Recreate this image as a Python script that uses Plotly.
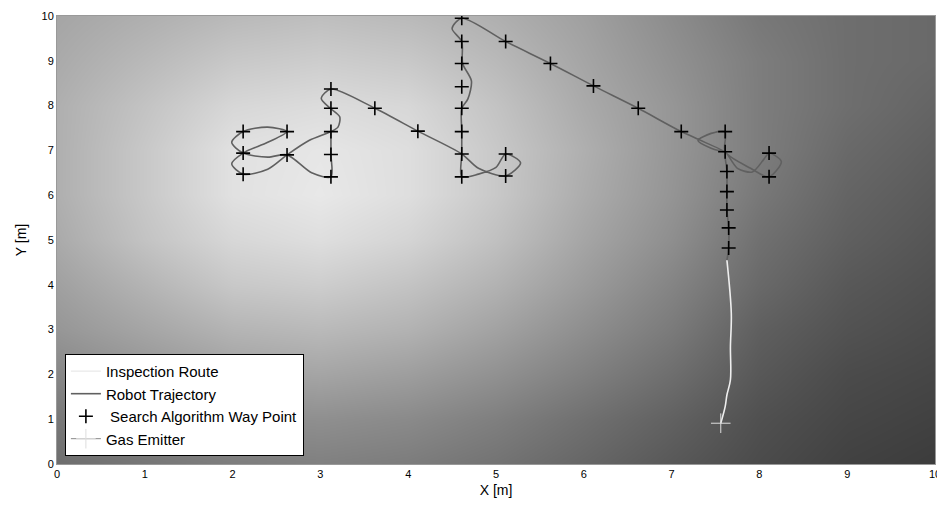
import plotly.graph_objects as go

# ---- background concentration field (gray level 0-255) ----
grid_x = [0, 1, 2, 3, 4, 5, 6, 7, 8, 9, 10]
grid_y = [0, 1, 2, 3, 4, 5, 6, 7, 8, 9, 10]
field_rows = [
    [110, 118, 125, 128, 124, 115, 102, 88, 75, 65, 60],
    [120, 130, 140, 143, 138, 127, 112, 97, 80, 70, 65],
    [135, 148, 160, 165, 158, 145, 128, 110, 88, 75, 70],
    [150, 165, 180, 185, 178, 162, 142, 122, 95, 82, 75],
    [160, 180, 200, 205, 195, 178, 155, 132, 105, 88, 80],
    [170, 195, 215, 222, 212, 192, 165, 142, 112, 95, 85],
    [175, 200, 225, 232, 222, 200, 172, 148, 120, 100, 90],
    [175, 200, 225, 230, 222, 200, 175, 150, 125, 105, 95],
    [175, 195, 215, 220, 215, 195, 170, 150, 125, 110, 100],
    [170, 185, 200, 205, 200, 185, 165, 145, 125, 110, 105],
    [165, 175, 185, 190, 185, 175, 160, 140, 120, 110, 105],
]

# ---- inspection route ----
route_x = [7.56, 7.61, 7.63, 7.67, 7.67, 7.68, 7.63]
route_y = [0.91, 1.28, 1.54, 1.88, 2.62, 3.36, 4.55]

# ---- robot trajectory ----
traj_x = [7.63, 7.65, 7.65, 7.63, 7.63, 7.63, 7.61, 7.75, 7.92, 8.05, 8.11, 8.25, 8.11, 7.90, 7.61,
          7.61, 7.45, 7.30, 7.45, 7.61,
          7.11, 6.62, 6.11, 5.62, 5.11, 4.61,
          4.50, 4.61, 4.62, 4.72, 4.68, 4.61, 4.61, 4.61, 4.61,
          4.80, 5.00, 5.11, 5.28, 5.11, 4.80, 4.61,
          4.11, 3.62, 3.12,
          3.01, 3.10, 3.22, 3.20, 3.12,
          2.87, 2.62, 2.40, 2.12, 1.99, 2.12,
          2.40, 2.62, 2.40, 2.12, 1.99, 2.12,
          2.40, 2.62, 2.90, 3.12, 3.12, 3.12]
traj_y = [4.55, 4.82, 5.27, 5.67, 6.08, 6.53, 6.97, 6.60, 6.52, 6.80, 6.94, 6.75, 6.41, 6.60, 6.97,
          7.42, 7.38, 7.22, 7.05, 6.97,
          7.42, 7.94, 8.44, 8.94, 9.43, 9.95,
          9.72, 9.43, 8.94, 8.55, 8.15, 7.94, 7.42, 6.92, 6.41,
          6.47, 6.62, 6.92, 6.72, 6.43, 6.60, 6.92,
          7.43, 7.94, 8.37,
          8.16, 7.96, 7.75, 7.52, 7.42,
          7.22, 6.90, 6.58, 6.47, 6.70, 6.94,
          7.18, 7.42, 7.52, 7.42, 7.18, 6.94,
          6.85, 6.90, 6.50, 6.41, 6.91, 7.42]

# ---- search algorithm way points ----
wp_x = [2.12, 2.12, 2.12, 2.62, 2.62, 3.12, 3.12, 3.12, 3.12, 3.12,
        3.62, 4.11,
        4.61, 4.61, 4.61, 4.61, 4.61, 4.61, 4.61, 4.61, 5.11, 5.11,
        5.11, 5.62, 6.11, 6.62, 7.11,
        7.61, 7.61, 7.63, 7.63, 7.63, 7.65, 7.65, 8.11, 8.11]
wp_y = [7.42, 6.94, 6.47, 7.42, 6.90, 8.37, 7.94, 7.42, 6.91, 6.41,
        7.94, 7.43,
        9.95, 9.43, 8.94, 8.42, 7.94, 7.42, 6.92, 6.41, 6.92, 6.43,
        9.43, 8.94, 8.44, 7.94, 7.42,
        7.42, 6.97, 6.53, 6.08, 5.67, 5.27, 4.82, 6.94, 6.41]

# ---- gas emitter ----
emit_x = [7.56]
emit_y = [0.91]

fig = go.Figure()
fig.add_trace(go.Heatmap(
    x=grid_x, y=grid_y, z=field_rows, zmin=0, zmax=255, zsmooth="best",
    colorscale=[[0, "rgb(0,0,0)"], [1, "rgb(255,255,255)"]],
    showscale=False, hoverinfo="skip", showlegend=False))
fig.add_trace(go.Scatter(
    x=route_x, y=route_y, mode="lines", name="Inspection Route",
    line=dict(color="#eeeeee", width=1.6, shape="spline")))
fig.add_trace(go.Scatter(
    x=traj_x, y=traj_y, mode="lines", name="Robot Trajectory",
    line=dict(color="#606060", width=1.6, shape="spline", smoothing=0.8)))
fig.add_trace(go.Scatter(
    x=wp_x, y=wp_y, mode="markers", name="\u00a0Search Algorithm Way Point",
    marker=dict(symbol="cross-thin", size=10, color="black",
                line=dict(color="black", width=1.6))))
fig.add_trace(go.Scatter(
    x=emit_x, y=emit_y, mode="lines+markers", name="Gas Emitter",
    line=dict(color="#888888", width=1),
    marker=dict(symbol="cross-thin", size=14, color="#dddddd",
                line=dict(color="#dddddd", width=1))))

axis_common = dict(range=[0, 10], dtick=1, showgrid=False, zeroline=False,
                   showline=True, linecolor="#999999", linewidth=1, mirror=True,
                   ticks="", automargin=False,
                   tickfont=dict(family="Liberation Sans, Arial", size=11, color="black"))
fig.update_layout(
    width=937, height=507,
    margin=dict(l=49, r=10, t=8, b=51),
    paper_bgcolor="white", plot_bgcolor="white",
    font=dict(family="Liberation Sans, Arial", color="black"),
    xaxis=dict(**axis_common, title=dict(text="X [m]", font=dict(size=14), standoff=5)),
    yaxis=dict(**axis_common, title=dict(text="Y [m]", font=dict(size=14), standoff=11)),
    legend=dict(x=0.009, y=0.018, xanchor="left", yanchor="bottom",
                bgcolor="white", bordercolor="black", borderwidth=1,
                font=dict(family="Liberation Sans, Arial", size=15, color="black"),
                tracegroupgap=0, itemwidth=30),
)
fig.write_html("out.html")
